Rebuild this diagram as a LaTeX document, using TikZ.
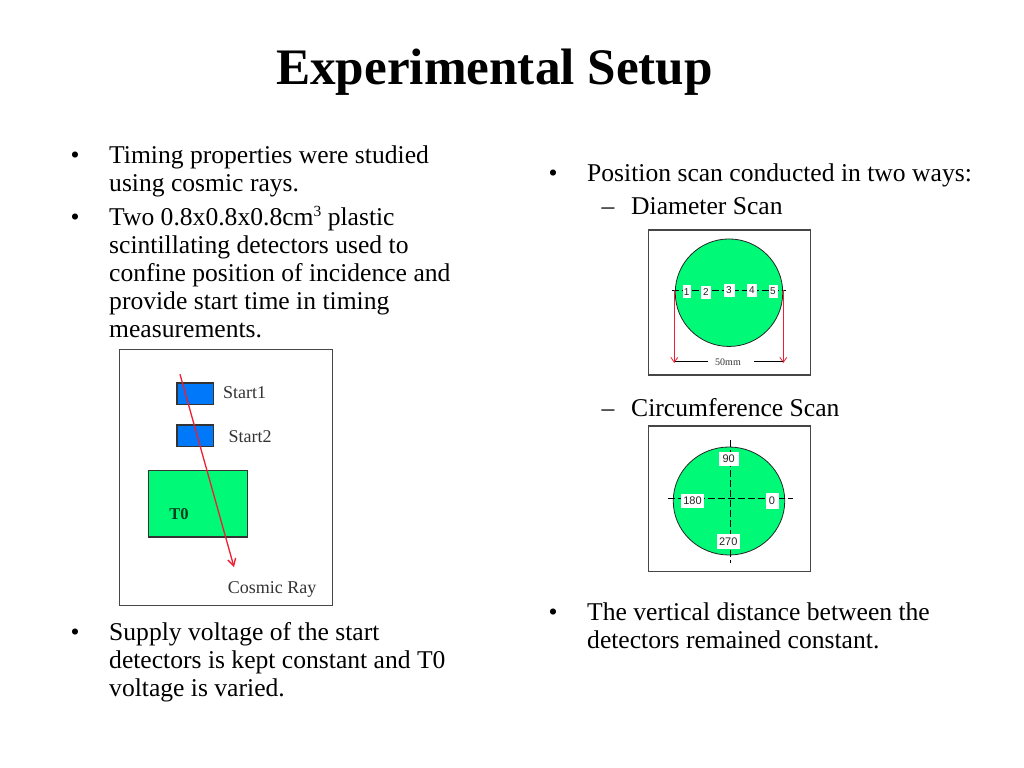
\documentclass[tikz,border=0pt]{standalone}
\usepackage{fontspec}
\setmainfont{Liberation Serif}
\newfontfamily\tagfont{Liberation Sans}
\usetikzlibrary{arrows.meta,shapes.geometric}
\definecolor{scgreen}{RGB}{0,250,120}
\definecolor{scblue}{RGB}{0,120,250}
\definecolor{rayred}{RGB}{240,30,50}
\definecolor{frameg}{RGB}{70,70,70}
\tikzset{
  x=1bp,y=-1bp,
  bodytext/.style={anchor=base west,inner sep=0pt,align=left,font=\fontsize{25.6bp}{28bp}\selectfont},
  bul/.style={anchor=base,inner sep=0pt,font=\fontsize{25.6bp}{28bp}\selectfont},
  frame/.style={draw=frameg,line width=1.1bp,fill=white},
  det/.style={draw=black!80,line width=1.3bp},
  smalllab/.style={inner sep=0pt,text=black!80,font=\fontsize{18bp}{18bp}\selectfont},
  tag/.style={fill=white,inner sep=0pt,minimum width=#1,text=black!85,font=\tagfont\fontsize{10bp}{11bp}\selectfont},
  angletag/.style={tag=#1,font=\tagfont\fontsize{11bp}{12bp}\selectfont},
  dashline/.style={draw=black,line width=0.9bp,dash pattern=on 7bp off 3bp},
  ray/.style={draw=rayred,line width=1.3bp,-{Straight Barb[length=7bp,width=8bp]}},
  thinray/.style={draw=rayred,line width=0.8bp,-{Straight Barb[length=5bp,width=7bp]}},
}
\begin{document}
\begin{tikzpicture}
\useasboundingbox[fill=white] (0,0) rectangle (1024,768);
\node[anchor=base,inner sep=0pt,font=\bfseries\fontsize{51.2bp}{54bp}\selectfont] (title) at (494.5,85) {Experimental Setup};

\node[bul] (b1) at (75,163) {•};
\node[bodytext] (t1) at (109,191) {Timing properties were studied\\using cosmic rays.};
\node[bul] (b2) at (75,225) {•};
\node[bodytext] (t2) at (109,337) {Two 0.8x0.8x0.8cm\raisebox{8.5bp}{\fontsize{15.5bp}{16bp}\selectfont 3} plastic\\scintillating detectors used to\\confine position of incidence and\\provide start time in timing\\measurements.};
\node[bul] (b3) at (75,640) {•};
\node[bodytext] (t3) at (109,696) {Supply voltage of the start\\detectors is kept constant and T0\\voltage is varied.};

\node[bul] (b4) at (553,181) {•};
\node[bodytext] (t4) at (587,181) {Position scan conducted in two ways:};
\node[bul] (d1) at (608,214.5) {–};
\node[bodytext] (t5) at (631,214.5) {Diameter Scan};
\node[bul] (d2) at (608,416) {–};
\node[bodytext] (t6) at (631,416) {Circumference Scan};
\node[bul] (b5) at (553,620) {•};
\node[bodytext] (t7) at (587,648) {The vertical distance between the\\detectors remained constant.};

% left figure
\path[frame] (119.5,349.5) rectangle (332.7,605.7);
\path[det,fill=scblue] (177,383) rectangle (213.7,404.3);
\path[det,fill=scblue] (177,425) rectangle (213.7,446.7);
\path[det,fill=scgreen] (148.3,470.3) rectangle (247.7,537);
\node[smalllab] (s1) at (244.7,392.5) {Start1};
\node[smalllab] (s2) at (250,437) {Start2};
\node[inner sep=0pt,text=black!75!scgreen,font=\bfseries\fontsize{16.5bp}{17bp}\selectfont] (t0) at (179,514) {T0};
\node[smalllab] (cr) at (272,589) {Cosmic Ray};
\coordinate (rayA) at (180,374.3);
\coordinate (rayB) at (234,567);
\draw[ray] (rayA) -- (rayB);

% diameter figure
\path[frame] (648.3,230) rectangle (810.5,375);
\node[circle,draw=black!85,line width=0.8bp,fill=scgreen,minimum size=107.5bp,inner sep=0pt] (c1) at (729,292.7) {};
\coordinate (lA) at (671.7,290.3);
\coordinate (lB) at (786,290.3);
\draw[dashline] (lA) -- (lB);
\node[tag=8bp,minimum height=13bp] (n1) at (686.7,291.7) {1};
\node[tag=10bp,minimum height=13bp] (n2) at (706,292) {2};
\node[tag=11bp,minimum height=13bp] (n3) at (729,290.5) {3};
\node[tag=10bp,minimum height=13bp] (n4) at (752,290.5) {4};
\node[tag=9bp,minimum height=13bp] (n5) at (773,291) {5};
\coordinate (rA) at (674.3,290.3);
\coordinate (rB) at (674.3,363);
\coordinate (sA) at (783.3,290.3);
\coordinate (sB) at (783.3,363);
\draw[thinray] (rA) -- (rB);
\draw[thinray] (sA) -- (sB);
\node[inner sep=0pt,text=black!80,font=\fontsize{10bp}{10bp}\selectfont] (mm) at (728,362.5) {50mm};
\coordinate (mL) at (675,361.7);
\coordinate (mR) at (783,361.7);
\draw[black,line width=0.8bp] (mL) -- (708,361.7);
\draw[black,line width=0.8bp] (754,361.7) -- (mR);

% circumference figure
\path[frame] (648.3,426) rectangle (810.5,571.7);
\node[ellipse,draw=black!85,line width=0.8bp,fill=scgreen,minimum width=111.5bp,minimum height=108bp,inner sep=0pt] (c2) at (729,501) {};
\coordinate (hA) at (667.7,498.3);
\coordinate (hB) at (793.3,498.3);
\coordinate (vA) at (730,440);
\coordinate (vB) at (730,562.7);
\draw[dashline] (hA) -- (hB);
\draw[dashline] (vA) -- (vB);
\node[angletag=20bp,minimum height=14bp] (a90) at (728.7,458.7) {90};
\node[angletag=23bp,minimum height=14bp] (a180) at (692.5,500.5) {180};
\node[angletag=13bp,minimum height=16bp] (a0) at (772,501) {0};
\node[angletag=23bp,minimum height=15bp] (a270) at (728.3,541.5) {270};
\end{tikzpicture}
\end{document}
